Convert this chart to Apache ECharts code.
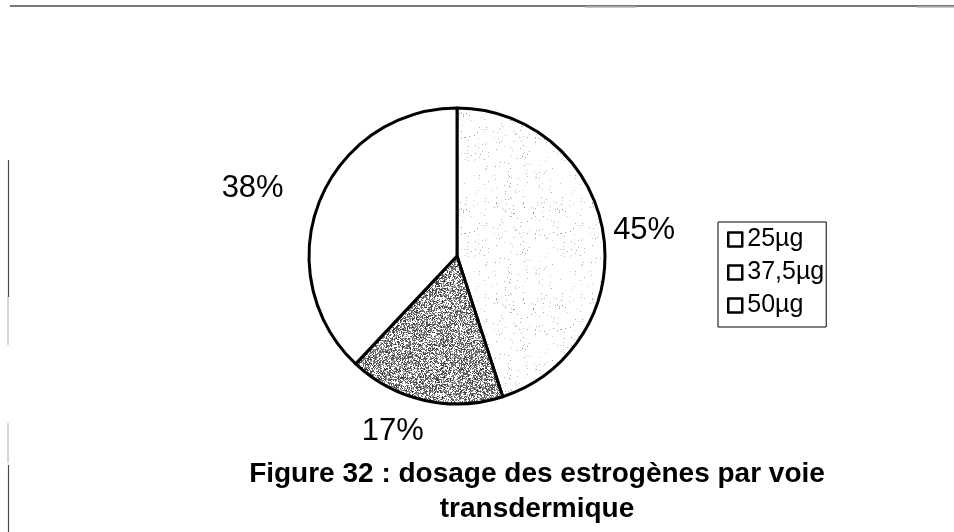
<!DOCTYPE html>
<html>
<head>
<meta charset="utf-8">
<title>Dosage des estrogènes par voie transdermique</title>
<script src="https://cdn.jsdelivr.net/npm/echarts@6/dist/echarts.min.js"></script>
<style>
  html, body { margin: 0; padding: 0; background: #fff; }
  #chart { width: 954px; height: 532px; }
</style>
</head>
<body>
<div id="chart"></div>
<script>
// Doses and their share of patients (%)
const doses = ['25µg', '37,5µg', '50µg'];
const shares = [45, 17, 38];
const titleLines = ['Figure 32 : dosage des estrogènes par voie', 'transdermique'];

// Stippled fill textures (deterministic hash so the pattern is stable)
function hash(i) {
  let h = (i * 2654435761) >>> 0;
  h ^= h >>> 15; h = Math.imul(h, 2246822519) >>> 0;
  h ^= h >>> 13; h = Math.imul(h, 3266489917) >>> 0;
  h ^= h >>> 16;
  return (h >>> 0) / 4294967296;
}
function stipple(density, shadeMin, shadeMax, seed) {
  const size = 96;
  const c = document.createElement('canvas');
  c.width = size; c.height = size;
  const ctx = c.getContext('2d');
  ctx.fillStyle = '#ffffff';
  ctx.fillRect(0, 0, size, size);
  for (let y = 0; y < size; y++) {
    for (let x = 0; x < size; x++) {
      const k = seed + y * size + x;
      if (hash(k) < density) {
        const g = Math.round(shadeMin + (shadeMax - shadeMin) * hash(k + 7919));
        ctx.fillStyle = 'rgb(' + g + ',' + g + ',' + g + ')';
        ctx.fillRect(x, y, 1, 1);
      }
    }
  }
  return { image: c, repeat: 'repeat' };
}
const fills = [
  stipple(0.03, 150, 215, 11),
  stipple(0.58, 45, 165, 4242),
  '#ffffff'
];
const labelOffsets = [[1, -2], [5, 27], [-27, -12]];

const chart = echarts.init(document.getElementById('chart'), null, { renderer: 'canvas' });

chart.setOption({
  backgroundColor: '#ffffff',
  animation: false,
  textStyle: { fontFamily: '"Liberation Sans", Arial, sans-serif' },
  title: {
    text: titleLines.join('\n'),
    left: 532,
    top: 452,
    textAlign: 'center',
    textStyle: {
      fontFamily: '"Liberation Sans", Arial, sans-serif',
      fontWeight: 'bold',
      fontSize: 28,
      lineHeight: 35,
      color: '#000'
    }
  },
  legend: {
    orient: 'vertical',
    left: 718,
    top: 222,
    padding: [5, 2, 9, 9],
    itemGap: 8,
    itemWidth: 14,
    itemHeight: 14,
    backgroundColor: '#fff',
    borderColor: '#000',
    borderWidth: 1,
    icon: 'rect',
    selectedMode: false,
    textStyle: {
      fontFamily: '"Liberation Sans", Arial, sans-serif',
      fontSize: 25,
      lineHeight: 25,
      color: '#000'
    },
    data: doses.map(name => ({
      name: name,
      itemStyle: { color: '#fff', borderColor: '#000', borderWidth: 2.5 }
    }))
  },
  series: [{
    type: 'pie',
    center: [457, 256],
    radius: 148,
    startAngle: 90,
    clockwise: true,
    avoidLabelOverlap: false,
    silent: true,
    itemStyle: { borderColor: '#000', borderWidth: 3 },
    label: {
      show: true,
      position: 'outside',
      formatter: '{c}%',
      fontFamily: '"Liberation Sans", Arial, sans-serif',
      fontSize: 31,
      color: '#000'
    },
    labelLine: { show: false, length: 4, length2: 0 },
    data: doses.map((name, i) => ({
      name: name,
      value: shares[i],
      itemStyle: { color: fills[i] },
      label: { offset: labelOffsets[i] }
    }))
  }],
  graphic: [
    { type: 'line', shape: { x1: 10, y1: 6, x2: 954, y2: 6 }, style: { stroke: '#4a4a4a', lineWidth: 1.5 } },
    { type: 'line', shape: { x1: 585, y1: 7, x2: 636, y2: 7 }, style: { stroke: '#b5b5b5', lineWidth: 1.5 } },
    { type: 'line', shape: { x1: 917, y1: 7, x2: 954, y2: 7 }, style: { stroke: '#b5b5b5', lineWidth: 1.5 } },
    { type: 'line', shape: { x1: 8.5, y1: 160, x2: 8.5, y2: 297 }, style: { stroke: '#4a4a4a', lineWidth: 1.2 } },
    { type: 'line', shape: { x1: 8, y1: 297, x2: 8, y2: 345 }, style: { stroke: '#b0b0b0', lineWidth: 1 } },
    { type: 'line', shape: { x1: 8, y1: 423, x2: 8, y2: 463 }, style: { stroke: '#b0b0b0', lineWidth: 1 } },
    { type: 'line', shape: { x1: 8.5, y1: 465, x2: 8.5, y2: 532 }, style: { stroke: '#4a4a4a', lineWidth: 1.2 } }
  ]
});
</script>
</body>
</html>
